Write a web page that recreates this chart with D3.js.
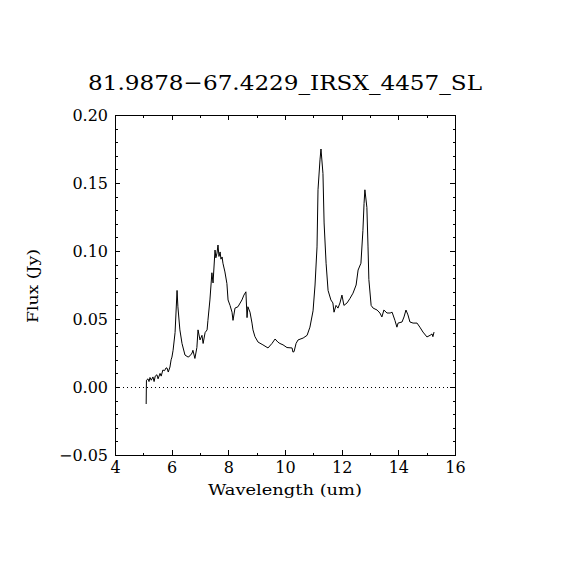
<!DOCTYPE html>
<html lang="en">
<head>
    <meta charset="UTF-8">
    <title>81.9878-67.4229_IRSX_4457_SL</title>
    <script type="text/javascript" src="https://d3js.org/d3.v7.min.js"></script>
    <style>
        body { margin: 0; background: #fff; }
        text { font-family: "DejaVu Serif", serif; fill: #000; }
    </style>
</head>
<body>

    <svg id="svg" width=570 height=570></svg>

    <script>
        // spectrum: wavelength (um) and flux (Jy)
        const wavelength = [
            5.10, 5.11, 5.165, 5.20, 5.235, 5.28, 5.34, 5.38, 5.42, 5.48,
            5.52, 5.59, 5.63, 5.69, 5.75, 5.80, 5.835, 5.88, 5.94, 5.98,
            6.01, 6.05, 6.12, 6.19, 6.22, 6.29, 6.365, 6.47, 6.58, 6.65,
            6.72, 6.75, 6.82, 6.89, 6.93, 7.00, 7.07, 7.11, 7.18, 7.25,
            7.28, 7.35, 7.42, 7.46, 7.53, 7.56, 7.60, 7.635, 7.67, 7.71, 7.74, 7.78, 7.81,
            7.88, 7.95, 7.99, 8.06, 8.13, 8.165, 8.235, 8.34, 8.48, 8.55,
            8.62, 8.66, 8.69, 8.765, 8.835, 8.87, 8.94, 9.05, 9.22, 9.40,
            9.54, 9.65, 9.75, 9.82, 9.93, 10.07, 10.25, 10.28, 10.32, 10.39,
            10.46, 10.64, 10.78, 10.88, 10.99, 11.06, 11.13, 11.165, 11.235, 11.27,
            11.34, 11.38, 11.45, 11.52, 11.62, 11.69, 11.73, 11.80, 11.87, 11.94,
            12.01, 12.08, 12.19, 12.29, 12.40, 12.51, 12.58, 12.68, 12.75, 12.79,
            12.82, 12.89, 12.93, 12.96, 13.04, 13.11, 13.25, 13.35, 13.42, 13.49,
            13.60, 13.71, 13.78, 13.88, 13.95, 13.99, 14.13, 14.20, 14.27, 14.34,
            14.41, 14.52, 14.66, 14.76, 14.87, 15.01, 15.12, 15.19, 15.22, 15.26
        ];
        const flux = [
            -0.0125, 0.005, 0.006, 0.004, 0.007, 0.005, 0.0074, 0.004, 0.008, 0.009,
            0.006, 0.010, 0.008, 0.0125, 0.012, 0.014, 0.014, 0.011, 0.0147, 0.020,
            0.022, 0.027, 0.040, 0.071, 0.059, 0.042, 0.032, 0.0235, 0.022, 0.023,
            0.025, 0.027, 0.021, 0.029, 0.042, 0.0346, 0.038, 0.032, 0.040, 0.042,
            0.049, 0.064, 0.084, 0.0765, 0.1007, 0.095, 0.0985, 0.1044, 0.096, 0.0993, 0.094, 0.0956, 0.091,
            0.0846, 0.076, 0.064, 0.060, 0.055, 0.049, 0.058, 0.059, 0.064, 0.0676,
            0.070, 0.051, 0.059, 0.055, 0.047, 0.042, 0.037, 0.033, 0.031, 0.0287,
            0.032, 0.0353, 0.033, 0.032, 0.031, 0.029, 0.0287, 0.0257, 0.026, 0.032,
            0.0346, 0.036, 0.038, 0.044, 0.056, 0.075, 0.103, 0.145, 0.167, 0.175,
            0.157, 0.1206, 0.091, 0.071, 0.064, 0.0618, 0.055, 0.060, 0.058, 0.0618,
            0.0676, 0.060, 0.0618, 0.065, 0.069, 0.075, 0.086, 0.091, 0.115, 0.135,
            0.145, 0.132, 0.103, 0.079, 0.060, 0.058, 0.0566, 0.0544, 0.0515, 0.0566,
            0.0544, 0.0544, 0.055, 0.049, 0.044, 0.047, 0.0478, 0.0515, 0.0566, 0.053,
            0.0478, 0.047, 0.047, 0.044, 0.0404, 0.0368, 0.038, 0.039, 0.037, 0.0404
        ];

        const xTicks = [4, 6, 8, 10, 12, 14, 16];
        const yTicks = [-0.05, 0.00, 0.05, 0.10, 0.15, 0.20];
        const xMinor = d3.range(5, 16, 2);
        const yMinor = d3.range(-0.04, 0.20, 0.01).filter(v => Math.abs(Math.round(v * 100) % 5) !== 0);

        const titleText = "81.9878\u221267.4229_IRSX_4457_SL";

        let svg = d3.select('svg');

        const plotLeft = 115, plotRight = 455, plotTop = 115, plotBottom = 455;
        const majorLen = 5, minorLen = 2.5;

        let x = d3.scaleLinear().domain([4, 16]).range([plotLeft, plotRight]);
        let y = d3.scaleLinear().domain([-0.05, 0.20]).range([plotBottom, plotTop]);

        // frame and ticks on all four sides, ticks pointing inward
        function axisGroup(axis, tx, ty) {
            return svg.append('g')
                .attr('transform', `translate(${tx},${ty})`)
                .attr('shape-rendering', 'crispEdges')
                .call(axis)
                .call(g => g.selectAll('path, line').attr('stroke', '#000'))
                .call(g => g.selectAll('text').style('font-family', '"DejaVu Serif", serif').style('font-size', '16px').attr('fill', '#000'));
        }

        axisGroup(d3.axisBottom(x).tickValues(xTicks).tickSizeInner(-majorLen).tickSizeOuter(0).tickPadding(7).tickFormat(d3.format('d')), 0, plotBottom);
        axisGroup(d3.axisBottom(x).tickValues(xMinor).tickSizeInner(-minorLen).tickSizeOuter(0).tickFormat(''), 0, plotBottom);
        axisGroup(d3.axisTop(x).tickValues(xTicks).tickSizeInner(-majorLen).tickSizeOuter(0).tickFormat(''), 0, plotTop);
        axisGroup(d3.axisTop(x).tickValues(xMinor).tickSizeInner(-minorLen).tickSizeOuter(0).tickFormat(''), 0, plotTop);

        axisGroup(d3.axisLeft(y).tickValues(yTicks).tickSizeInner(-majorLen).tickSizeOuter(0).tickPadding(7).tickFormat(d3.format('.2f')), plotLeft, 0);
        axisGroup(d3.axisLeft(y).tickValues(yMinor).tickSizeInner(-minorLen).tickSizeOuter(0).tickFormat(''), plotLeft, 0);
        axisGroup(d3.axisRight(y).tickValues(yTicks).tickSizeInner(-majorLen).tickSizeOuter(0).tickFormat(''), plotRight, 0);
        axisGroup(d3.axisRight(y).tickValues(yMinor).tickSizeInner(-minorLen).tickSizeOuter(0).tickFormat(''), plotRight, 0);

        // dotted zero line
        svg.append('line')
            .attr('x1', x(4)).attr('x2', x(16))
            .attr('y1', Math.round(y(0)) + 0.5).attr('y2', Math.round(y(0)) + 0.5)
            .attr('stroke', '#000')
            .attr('stroke-width', 1)
            .attr('stroke-dasharray', '1,3');

        // spectrum
        const points = wavelength.map((w, i) => ({ w: w, f: flux[i] }));
        const line = d3.line().x(d => x(d.w)).y(d => y(d.f));

        svg.append('path')
            .datum(points)
            .attr('d', line)
            .attr('fill', 'none')
            .attr('stroke', '#000')
            .attr('stroke-width', 1);

        // title and axis labels
        svg.append('text')
            .attr('x', 285).attr('y', 90)
            .attr('text-anchor', 'middle')
            .attr('textLength', 394)
            .attr('lengthAdjust', 'spacingAndGlyphs')
            .style('font-size', '21px')
            .text(titleText);

        svg.append('text')
            .attr('x', 285).attr('y', 495)
            .attr('text-anchor', 'middle')
            .attr('textLength', 154)
            .attr('lengthAdjust', 'spacingAndGlyphs')
            .style('font-size', '15px')
            .text('Wavelength (um)');

        svg.append('text')
            .attr('transform', 'translate(38,286) rotate(-90)')
            .attr('text-anchor', 'middle')
            .attr('textLength', 74)
            .attr('lengthAdjust', 'spacingAndGlyphs')
            .style('font-size', '15px')
            .text('Flux (Jy)');
    </script>

</body>
</html>
